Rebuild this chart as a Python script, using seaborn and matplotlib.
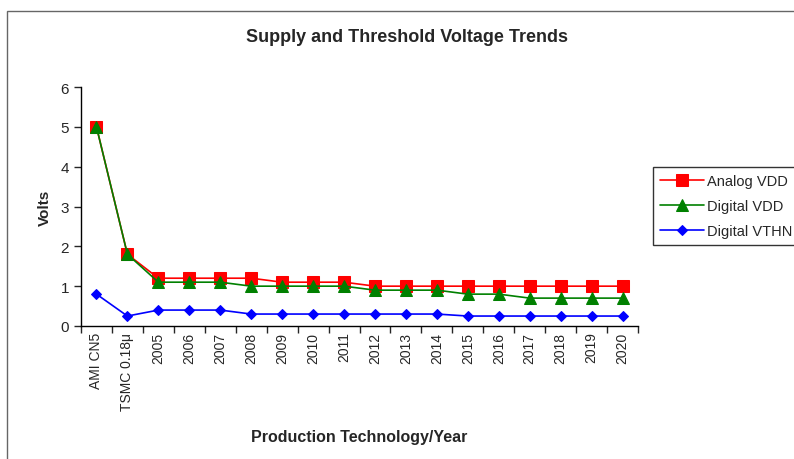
import pandas as pd
import matplotlib.pyplot as plt
import seaborn as sns

categories = ["AMI CN5", "TSMC 0.18\u03bc", "2005", "2006", "2007", "2008", "2009", "2010",
              "2011", "2012", "2013", "2014", "2015", "2016", "2017", "2018", "2019", "2020"]
analog_vdd = [5.0, 1.8, 1.2, 1.2, 1.2, 1.2, 1.1, 1.1, 1.1, 1.0, 1.0, 1.0, 1.0, 1.0, 1.0, 1.0, 1.0, 1.0]
digital_vdd = [5.0, 1.8, 1.1, 1.1, 1.1, 1.0, 1.0, 1.0, 1.0, 0.9, 0.9, 0.9, 0.8, 0.8, 0.7, 0.7, 0.7, 0.7]
digital_vthn = [0.8, 0.25, 0.4, 0.4, 0.4, 0.3, 0.3, 0.3, 0.3, 0.3, 0.3, 0.3, 0.25, 0.25, 0.25, 0.25, 0.25, 0.25]

sns.set_style("white")
plt.rcParams['font.family'] = ['Liberation Sans', 'DejaVu Sans']

idx = list(range(len(categories)))
df = pd.DataFrame({"pos": idx, "Analog VDD": analog_vdd,
                   "Digital VDD": digital_vdd, "Digital VTHN": digital_vthn})

fig = plt.figure(figsize=(7.94, 4.60), dpi=100)
ax = fig.add_axes([81 / 794, 1 - 327 / 460, (638 - 81) / 794, (327 - 88) / 460])

styles = [("Analog VDD", "red", "s", 8.5),
          ("Digital VDD", "green", "^", 8.5),
          ("Digital VTHN", "blue", "D", 5.5)]
for name, color, marker, ms in styles:
    sns.lineplot(data=df, x="pos", y=name, ax=ax, color=color, marker=marker,
                 markersize=ms, markeredgecolor=color, linewidth=1.2, label=name)

ax.set_xlim(-0.5, len(categories) - 0.5)
ax.set_ylim(0, 6)
ax.set_yticks(range(0, 7))
ax.set_xticks(idx)
ax.set_xticklabels(categories, rotation=90, fontsize=10)
ax.set_xticks([i - 0.5 for i in range(len(categories) + 1)], minor=True)
ax.tick_params(axis="x", which="major", length=0, pad=4)
ax.tick_params(axis="x", which="minor", length=5, direction="out", width=1)
ax.tick_params(axis="y", length=5, direction="out", width=1, labelsize=11)
ax.xaxis.set_tick_params(bottom=True, which="both")
ax.yaxis.set_tick_params(left=True)
for s in ["top", "right"]:
    ax.spines[s].set_visible(False)
for s in ["left", "bottom"]:
    ax.spines[s].set_color("black")
    ax.spines[s].set_linewidth(1)

ax.set_xlabel("Production Technology/Year", fontsize=11.5, fontweight="bold", labelpad=14)
ax.set_ylabel("Volts", fontsize=11, fontweight="bold", labelpad=6)
fig.text(0.513, 1 - 37 / 460, "Supply and Threshold Voltage Trends", ha="center", va="center",
         fontsize=13, fontweight="bold")

leg = ax.legend(loc="center left", bbox_to_anchor=(653 / 794, 1 - 207 / 460),
                bbox_transform=fig.transFigure, frameon=True, fancybox=False,
                fontsize=10.5, handlelength=3, borderpad=0.5, labelspacing=0.75,
                handletextpad=0.2, borderaxespad=0)
leg.get_frame().set_edgecolor("black")
leg.get_frame().set_linewidth(1)

fig.patches.append(plt.Rectangle((7 / 794, -0.05), 1.1, 1 - 12 / 460 + 0.05, transform=fig.transFigure,
                                 fill=False, edgecolor="#666666", linewidth=1))

fig.savefig("out.png", dpi=100)
